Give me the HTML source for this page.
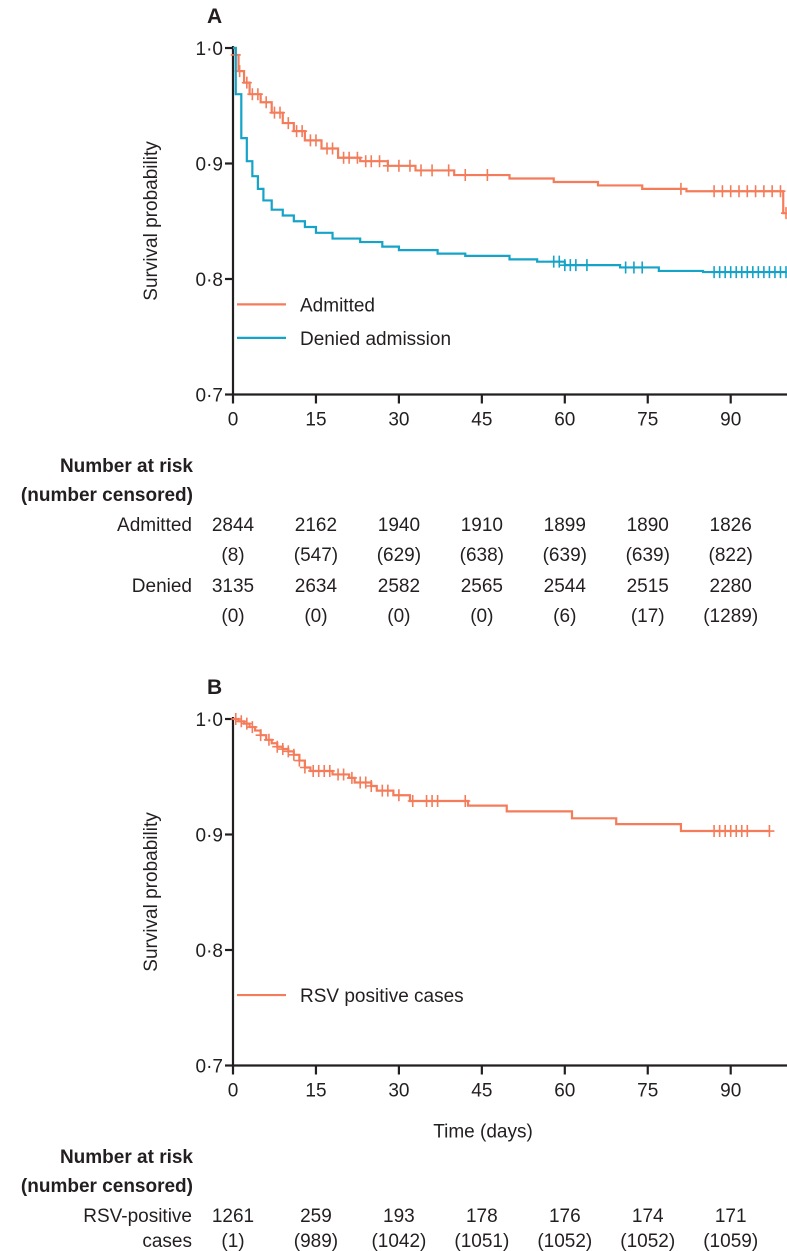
<!DOCTYPE html>
<html><head><meta charset="utf-8"><style>
html,body{margin:0;padding:0;background:#fff;}
svg{display:block;font-family:"Liberation Sans",sans-serif;}
text{fill:#231f20;}
</style></head><body>
<svg id="chart" width="787" height="1251" viewBox="0 0 787 1251"></svg>
<script>
// ---- data ----
const xTicks = [0, 15, 30, 45, 60, 75, 90];
const yTicks = [0.7, 0.8, 0.9, 1.0];
const yTickLabels = ["0·7", "0·8", "0·9", "1·0"];
// Panel A step curves: [day, survival]
const admittedTimes = [0, 0.5, 1, 2, 3, 5, 7, 9, 11, 13, 16, 19, 23, 28, 33, 40, 50, 58, 66, 74, 82, 99.5, 100];
const admittedSurv = [1.0, 0.994, 0.98, 0.97, 0.96, 0.953, 0.944, 0.935, 0.928, 0.92, 0.913, 0.905, 0.902, 0.898, 0.894, 0.89, 0.887, 0.884, 0.881, 0.878, 0.876, 0.857, 0.857];
const admittedCensor = [0.5, 1.2, 2.5, 3.5, 4.5, 6, 7.5, 8.5, 10, 11.5, 12.5, 14, 15, 17, 18, 20, 21, 22.5, 24, 25, 26.5, 28, 30, 32, 34, 36, 39, 42, 46, 81, 87, 88.5, 90, 91.5, 93, 94.5, 96, 97.5, 99, 100];
const deniedTimes = [0, 0.5, 1.5, 2.5, 3.5, 4.5, 5.5, 7, 9, 11, 13, 15, 18, 23, 27, 30, 37, 42, 50, 55, 60, 70, 77, 85, 100];
const deniedSurv = [1.0, 0.96, 0.922, 0.902, 0.889, 0.878, 0.868, 0.86, 0.855, 0.85, 0.845, 0.84, 0.835, 0.832, 0.828, 0.825, 0.822, 0.82, 0.817, 0.815, 0.812, 0.81, 0.807, 0.806, 0.806];
const deniedCensor = [58, 59, 60, 61, 62, 64, 71, 72.5, 74, 87, 88, 89, 90, 91, 92, 93, 94, 95, 96, 97, 98, 99, 100];
// Panel B
const rsvTimes = [0, 1, 2, 3, 4, 5, 6, 7, 8, 9, 10, 11, 12, 13, 14, 18, 21, 22, 25, 26, 29, 32, 42.5, 49.5, 61.3, 69.3, 81, 97];
const rsvSurv = [1.0, 0.998, 0.996, 0.993, 0.99, 0.986, 0.982, 0.979, 0.976, 0.974, 0.972, 0.969, 0.964, 0.958, 0.955, 0.952, 0.949, 0.945, 0.942, 0.938, 0.934, 0.929, 0.925, 0.92, 0.914, 0.909, 0.903, 0.903];
const rsvCensor = [0.5, 1.5, 2.5, 3.5, 5, 6.5, 8, 9, 10, 11, 12, 13, 14.5, 15.5, 16.5, 17.5, 19, 20, 21.5, 23, 24, 25, 27, 28, 30, 32.5, 35, 36, 37, 42, 87, 88, 89, 90, 91, 92, 93, 97];
// number at risk
const riskAdmitted = ["2844", "2162", "1940", "1910", "1899", "1890", "1826"];
const censAdmitted = ["(8)", "(547)", "(629)", "(638)", "(639)", "(639)", "(822)"];
const riskDenied = ["3135", "2634", "2582", "2565", "2544", "2515", "2280"];
const censDenied = ["(0)", "(0)", "(0)", "(0)", "(6)", "(17)", "(1289)"];
const riskRsv = ["1261", "259", "193", "178", "176", "174", "171"];
const censRsv = ["(1)", "(989)", "(1042)", "(1051)", "(1052)", "(1052)", "(1059)"];

const ORANGE = "#f47c5a", BLUE = "#16a3c8";
const svg = document.getElementById("chart");
const NS = "http://www.w3.org/2000/svg";
const X0 = 233, PXDAY = 5.53;
function xs(d) { return X0 + d * PXDAY; }
function mk(tag, attrs, parent) {
  const e = document.createElementNS(NS, tag);
  for (const k in attrs) e.setAttribute(k, attrs[k]);
  (parent || svg).appendChild(e); return e;
}
function txt(s, x, y, size, anchor, weight, name) {
  const t = mk("text", {x: x, y: y, "font-size": size, "text-anchor": anchor || "start", "font-weight": weight || "normal"});
  t.textContent = s;
  
  
  return t;
}

function panel(letter, top, series, legend, showXTitle) {
  const y10 = top, PX01 = 115.5;
  const ys = v => y10 + (1.0 - v) / 0.1 * PX01;
  const yBot = ys(0.7);
  txt(letter, 207, top - 25, 21, "start", "bold", "panel-label-" + letter.toLowerCase());
  const ax = mk("line", {x1: X0, y1: y10 - 2, x2: X0, y2: yBot, stroke: "#231f20", "stroke-width": 2.2});
  
  
  const bx = mk("line", {x1: X0 - 1, y1: yBot, x2: 787, y2: yBot, stroke: "#231f20", "stroke-width": 2.2});
  
  
  yTicks.forEach((v, i) => {
    const l = mk("line", {x1: X0 - 8, y1: ys(v), x2: X0, y2: ys(v), stroke: "#231f20", "stroke-width": 2.2});
    
    
    txt(yTickLabels[i], X0 - 10, ys(v) + 7, 19, "end", "normal", "y-tick-label");
  });
  xTicks.forEach(d => {
    const l = mk("line", {x1: xs(d), y1: yBot, x2: xs(d), y2: yBot + 9, stroke: "#231f20", "stroke-width": 2.2});
    
    
    txt(String(d), xs(d), yBot + 31, 19, "middle", "normal", "x-tick-label");
  });
  const yt = txt("Survival probability", 0, 0, 19, "middle", "normal", "y-axis-title");
  yt.setAttribute("transform", "translate(157," + (y10 + 173) + ") rotate(-90)");
  if (showXTitle) txt("Time (days)", 483, yBot + 72, 19, "middle", "normal", "x-axis-title");
  series.forEach(s => {
    let d = "M" + xs(s.t[0]) + "," + ys(s.v[0]);
    for (let i = 1; i < s.t.length; i++) {
      d += " H" + xs(s.t[i]) + " V" + ys(s.v[i]);
    }
    const p = mk("path", {d: d, fill: "none", stroke: s.c, "stroke-width": 2.2});
    
    
    s.cens.forEach(cd => {
      let v = s.v[0];
      for (let i = 0; i < s.t.length; i++) if (s.t[i] <= cd) v = s.v[i];
      const m = mk("path", {d: "M" + (xs(cd) - 5) + "," + ys(v) + " H" + (xs(cd) + 5) + " M" + xs(cd) + "," + (ys(v) - 6) + " V" + (ys(v) + 6), stroke: s.c, "stroke-width": 1.6, fill: "none"});
      
      
    });
  });
  legend.forEach((lg, i) => {
    const ly = ys(lg.y);
    const l = mk("line", {x1: 237, y1: ly, x2: 286, y2: ly, stroke: lg.c, "stroke-width": 2.2});
    
    
    txt(lg.label, 300, ly + 7, 19, "start", "normal", "legend-entry");
  });
  return yBot;
}

panel("A", 48, [
  {t: admittedTimes, v: admittedSurv, cens: admittedCensor, c: ORANGE, name: "admitted"},
  {t: deniedTimes, v: deniedSurv, cens: deniedCensor, c: BLUE, name: "denied"}
], [{y: 0.778, c: ORANGE, label: "Admitted"}, {y: 0.749, c: BLUE, label: "Denied admission"}], false);

panel("B", 719, [
  {t: rsvTimes, v: rsvSurv, cens: rsvCensor, c: ORANGE, name: "rsv"}
], [{y: 0.761, c: ORANGE, label: "RSV positive cases"}], true);

// number at risk tables
function riskTable(headY, rows) {
  txt("Number at risk", 193, headY, 19, "end", "bold", "risk-table-title");
  txt("(number censored)", 193, headY + 29, 19, "end", "bold", "risk-table-subtitle");
  rows.forEach(r => {
    if (r.label) txt(r.label, 192, r.y, 19, "end", "normal", "risk-row-label");
    r.vals.forEach((s, i) => txt(s, xs(xTicks[i]), r.y, 19, "middle", "normal", "risk-value"));
  });
}
riskTable(472, [
  {label: "Admitted", y: 531, vals: riskAdmitted},
  {label: "", y: 561, vals: censAdmitted},
  {label: "Denied", y: 592, vals: riskDenied},
  {label: "", y: 622, vals: censDenied}
]);
riskTable(1163, [
  {label: "RSV-positive", y: 1222, vals: riskRsv},
  {label: "cases", y: 1251 - 4, vals: censRsv}
]);
</script>
</body></html>
